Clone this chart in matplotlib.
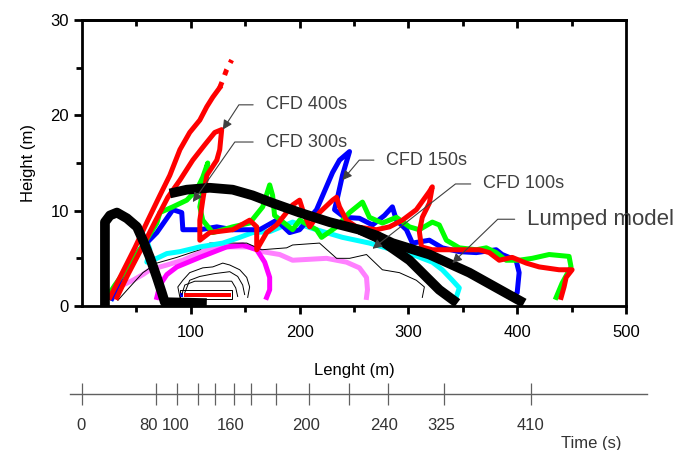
import matplotlib.pyplot as plt
from matplotlib.ticker import MultipleLocator, FixedLocator

plt.rcParams['font.family'] = ['Liberation Sans', 'DejaVu Sans']

# ---- plume contours (length m, height m) ----
violet_x = [28.4, 32.1, 46.8, 56, 62.4, 78, 92.7, 114.7, 133, 154.1, 166, 181.7, 193.6, 224.8, 243.1, 255, 261.5, 262.4, 261.5]
violet_y = [0.9, 1.9, 2.7, 3.3, 3.8, 4.3, 4.8, 5.9, 6.2, 6.2, 5.7, 5.4, 4.8, 5.0, 4.6, 4.0, 3.0, 1.7, 0.9]

magenta_x = [68.8, 71.6, 78, 87.2, 108.3, 133, 147.7, 160.6, 167.9, 172.5, 172.5, 169.7]
magenta_y = [0.9, 2.2, 3.3, 4.1, 5.1, 6.2, 6.4, 5.9, 4.6, 3.0, 1.7, 0.9]

thin_x = [33, 44, 56, 68.8, 87.2, 108.3, 117.4, 151.4, 165.1, 188.1, 193.6, 218.3, 234, 246, 261.5, 276.1, 291.7, 307.3, 314.7, 312.8]
thin_y = [0.6, 2.0, 3.5, 4.5, 5.1, 5.9, 6.6, 6.6, 5.9, 6.1, 6.4, 6.6, 5.0, 5.0, 5.4, 3.8, 3.5, 2.7, 2.0, 0.9]

core_a_x = [90, 88.1, 92.7, 99, 111, 120.2, 129.4, 135.8, 145, 151.4, 154.1, 152.3]
core_a_y = [0.9, 2.0, 2.7, 3.5, 4.0, 4.1, 4.5, 4.3, 3.8, 3.0, 2.0, 0.9]
core_b_x = [94.5, 99, 108.3, 122, 135.8, 143.1, 147.7, 149.5]
core_b_y = [1.4, 2.7, 3.1, 3.4, 3.6, 3.1, 2.2, 1.2]
core_c_x = [91.7, 94.5, 103.7, 137.6, 141.3, 143.1]
core_c_y = [1.2, 2.2, 2.6, 2.6, 1.9, 1.0]

cyan_x = [27.5, 36.7, 46.8, 53.2, 59.6, 62.4, 59.6, 68.8, 78, 90, 108.3, 129.4, 145, 156.9, 172.5, 193.6, 215.6, 239.4,
          264.2, 285.3, 303.7, 322, 331.2, 340.4, 346.8, 344]
cyan_y = [0.8, 2.7, 4.6, 5.9, 6.9, 5.9, 4.6, 5.0, 5.5, 5.7, 6.2, 6.6, 7.2, 7.7, 7.8, 8.8, 8.0, 7.2,
          6.6, 5.9, 5.4, 4.6, 3.8, 2.7, 1.9, 0.9]

blue_x = [27.5, 39.4, 53.2, 68.8, 83.5, 91.7, 92.7, 108.3, 123.9, 138.5, 163.3, 178.9, 190.8, 200, 215.6, 230.3, 236.7,
          245.9, 239.4, 234.9, 232.1, 241.3, 255, 267, 278, 285.3, 289, 298.2, 303.7, 319.3, 331.2, 346.8, 362.4,
          380.7, 386.2, 399, 401.8, 400, 395.4]
blue_y = [0.8, 3.8, 5.9, 7.7, 10.1, 9.8, 8.0, 8.0, 8.3, 8.0, 8.0, 9.0, 7.7, 8.0, 10.1, 14.0, 15.3,
          16.2, 13.7, 11.4, 10.1, 9.3, 9.2, 8.5, 9.5, 10.4, 9.0, 8.0, 6.6, 6.9, 6.1, 5.7, 5.6,
          5.9, 5.4, 4.8, 3.5, 1.4, 0.9]

green_x = [25.7, 30.3, 46.8, 60.6, 68.8, 71.6, 83.5, 96.3, 105.5, 111, 115.6, 112.8, 108.3, 111, 120.2, 138.5, 154.1,
           166.1, 172.5, 175.2, 177, 193.6, 200, 215.6, 220.2, 234, 245.9, 257.8, 264.2, 276.1, 289, 301, 310,
           322, 328.4, 334.9, 346.8, 362.4, 371.6, 380.7, 389.9, 401.8, 413.8, 429.4, 447.7, 449.5, 441.3, 435.8]
green_y = [1.4, 2.2, 4.8, 7.2, 8.7, 9.8, 10.4, 11.1, 12.2, 13.5, 15.0, 13.2, 10.4, 9.0, 7.7, 8.3, 8.7,
           10.4, 12.7, 11.6, 9.5, 8.0, 9.0, 8.0, 7.2, 8.3, 9.8, 10.9, 9.3, 8.7, 9.3, 8.3, 8.0,
           8.8, 8.5, 6.9, 6.1, 5.9, 6.1, 5.6, 4.8, 4.8, 5.0, 5.4, 5.2, 4.1, 2.4, 0.9]

red_x = [32.1, 42.2, 53.2, 67, 78.9, 90, 101.8, 112.8, 122, 128.4, 126.6, 123.9, 114.7, 111, 108.3, 108.3, 117.4, 138.5,
         154.1, 160.6, 160.6, 169.7, 178.9, 193.6, 200, 202.8, 209.2, 218.3, 230.3, 233.9, 236.7, 243.1, 252.3,
         270.6, 282.6, 294.5, 307.3, 319.3, 322, 319.3, 312.8, 310.1, 312, 322, 353.2, 365.1, 374.3, 383.5,
         395.4, 408.3, 420.2, 438.5, 450.5, 445, 443.1, 440.4]
red_y = [0.9, 3.3, 5.7, 8.8, 11.4, 13.2, 15.3, 16.9, 18.2, 18.5, 16.4, 15.3, 13.7, 11.1, 9.0, 6.9, 7.7, 8.0,
         9.0, 8.3, 5.9, 7.7, 8.5, 10.6, 11.1, 10.1, 8.3, 9.8, 11.1, 11.4, 10.4, 9.0, 8.3,
         8.0, 8.3, 9.0, 10.1, 12.0, 12.5, 10.8, 9.3, 7.8, 6.2, 5.9, 5.9, 5.9, 5.6, 4.8,
         5.1, 4.5, 4.1, 3.8, 3.8, 3.0, 2.0, 0.9]

red_edge_x = [25.7, 34.9, 48.6, 60.6, 71.6, 80.7, 90, 99, 108.3, 114.7, 120.2, 126.6]
red_edge_y = [0.9, 3.0, 6.1, 9.0, 11.6, 13.7, 16.4, 18.2, 19.5, 20.9, 21.9, 22.9]
red_tip_x = [126.6, 129.4, 133, 137.6]
red_tip_y = [22.9, 23.7, 24.8, 25.8]

# source bars near the ground
box_x = [89.9, 137.6]
box_y = [0.7, 1.7]
blue_bar_x = [90.5, 93.2]
red_bar_x = [93.6, 136.7]
bar_y = [0.9, 1.4]

# ---- lumped model (thick black) ----
lump1_x = [21.1, 21.1, 25.7, 32.1, 41.3, 50.5, 56, 62.4, 68.8, 73.4, 76.1, 114.7]
lump1_y = [0, 8.8, 9.5, 9.8, 9.2, 8.3, 6.9, 5.1, 3.0, 1.4, 0.4, 0.3]
lump2_x = [80.7, 96.3, 117.4, 138.5, 156.9, 175.2, 200, 227.5, 255, 270.6, 287.2, 301, 328.4, 345]
lump2_y = [11.8, 12.2, 12.4, 12.2, 11.6, 10.8, 9.8, 8.8, 8.0, 7.2, 5.9, 4.8, 1.7, 0.3]
lump3_x = [255, 270.6, 285.3, 319.3, 356, 406.4]
lump3_y = [8.0, 7.4, 6.6, 5.4, 3.5, 0.3]

# ---- annotations: label, arrow tip, text position, arrow angle ----
labels = ['CFD 400s', 'CFD 300s', 'CFD 150s', 'CFD 100s', 'Lumped model']
tips = [(129.4, 18.5), (101.8, 10.9), (239.4, 13.2), (267, 6.0), (340.4, 4.5)]
text_pos = [(168.8, 21.1), (168.8, 17.2), (279.8, 15.3), (368.8, 12.8), (409.2, 9.1)]
angles = [57, 55, 50, 38, 44]
sizes = [13, 13, 13, 13, 16]

# ---- time axis (positions on the length scale) ----
time_tick_pos = [0, 68, 87, 107, 122.6, 139.5, 155, 178, 209, 245, 281, 333, 413]
time_labels = ['0', '80', '100', '160', '200', '240', '325', '410']
time_label_pos = [-1, 61, 86.5, 137, 205.6, 278, 330, 412]

fig = plt.figure(figsize=(6.81, 4.5), dpi=100)
ax = fig.add_axes([0.1204, 0.32, 0.7988, 0.6356])

lw = 3.6
ax.plot(violet_x, violet_y, color='#ff80ff', lw=lw)
ax.plot(magenta_x, magenta_y, color='#ff00ff', lw=lw)
ax.plot(thin_x, thin_y, color='black', lw=0.7)
for cx, cy in [(core_a_x, core_a_y), (core_b_x, core_b_y), (core_c_x, core_c_y)]:
    ax.plot(cx, cy, color='black', lw=0.7)
ax.fill_between(box_x, box_y[0], box_y[1], facecolor='white', edgecolor='black', lw=0.7)
ax.fill_between(red_bar_x, bar_y[0], bar_y[1], color='red', lw=0)
ax.fill_between(blue_bar_x, bar_y[0], bar_y[1], color='blue', lw=0)
ax.plot(cyan_x, cyan_y, color='#00ffff', lw=lw)
ax.plot(blue_x, blue_y, color='#0000ff', lw=lw)
ax.plot(green_x, green_y, color='#00ff00', lw=lw)
ax.plot(red_x, red_y, color='#ff0000', lw=lw)
ax.plot(red_edge_x, red_edge_y, color='#ff0000', lw=lw)
ax.plot(red_tip_x, red_tip_y, color='#ff0000', lw=lw, linestyle=(0, (1.2, 1.5)))

for lx, ly in [(lump1_x, lump1_y), (lump2_x, lump2_y), (lump3_x, lump3_y)]:
    ax.plot(lx, ly, color='black', lw=7, solid_capstyle='butt', zorder=5)

for lab, tip, tp, ang, fs in zip(labels, tips, text_pos, angles, sizes):
    ax.annotate(lab, xy=tip, xytext=tp, ha='left', va='center', fontsize=fs, color='#404040', zorder=6,
                arrowprops=dict(arrowstyle='-|>', color='#404040', lw=0.8, mutation_scale=14,
                                shrinkA=7, shrinkB=0,
                                connectionstyle=f'angle,angleA=0,angleB={ang},rad=0'))

ax.set_xlim(0, 500)
ax.set_ylim(0, 30)
ax.xaxis.set_major_locator(FixedLocator([100, 200, 300, 400, 500]))
ax.xaxis.set_minor_locator(FixedLocator([50, 150, 250, 350, 450]))
ax.yaxis.set_major_locator(MultipleLocator(10))
ax.yaxis.set_minor_locator(MultipleLocator(5))
ax.tick_params(which='both', direction='out', width=2, top=False, right=False, labelsize=12)
ax.tick_params(which='major', length=6)
ax.tick_params(which='minor', length=4)
ax.tick_params(axis='x', pad=8)
for s in ax.spines.values():
    s.set_linewidth(2)

top = ax.secondary_xaxis('top')
top.xaxis.set_major_locator(FixedLocator([100, 200, 300, 400]))
top.xaxis.set_minor_locator(FixedLocator([50, 150, 250, 350, 450]))
top.tick_params(which='both', direction='in', width=2, labeltop=False)
top.tick_params(which='major', length=6)
top.tick_params(which='minor', length=4)
top.spines['top'].set_linewidth(2)

ax.set_xlabel('Lenght (m)', fontsize=12, labelpad=16)
ax.set_ylabel('Height (m)', fontsize=12, labelpad=10)

# time axis below
tax = fig.add_axes([0.1204, 0.1, 0.7988, 0.049])
tax.set_xlim(0, 500)
tax.set_ylim(-1, 1)
tax.axis('off')
tax.plot([-11, 519], [0, 0], color='#606060', lw=1, clip_on=False)
tax.vlines(time_tick_pos, -1, 1, color='#606060', lw=0.9, clip_on=False)
for lab, pos in zip(time_labels, time_label_pos):
    tax.text(pos, -2.9, lab, ha='center', va='center', fontsize=12, color='#333333')
tax.text(468, -4.5, 'Time (s)', ha='center', va='center', fontsize=12, color='#333333')

fig.savefig('out.png', dpi=100)
